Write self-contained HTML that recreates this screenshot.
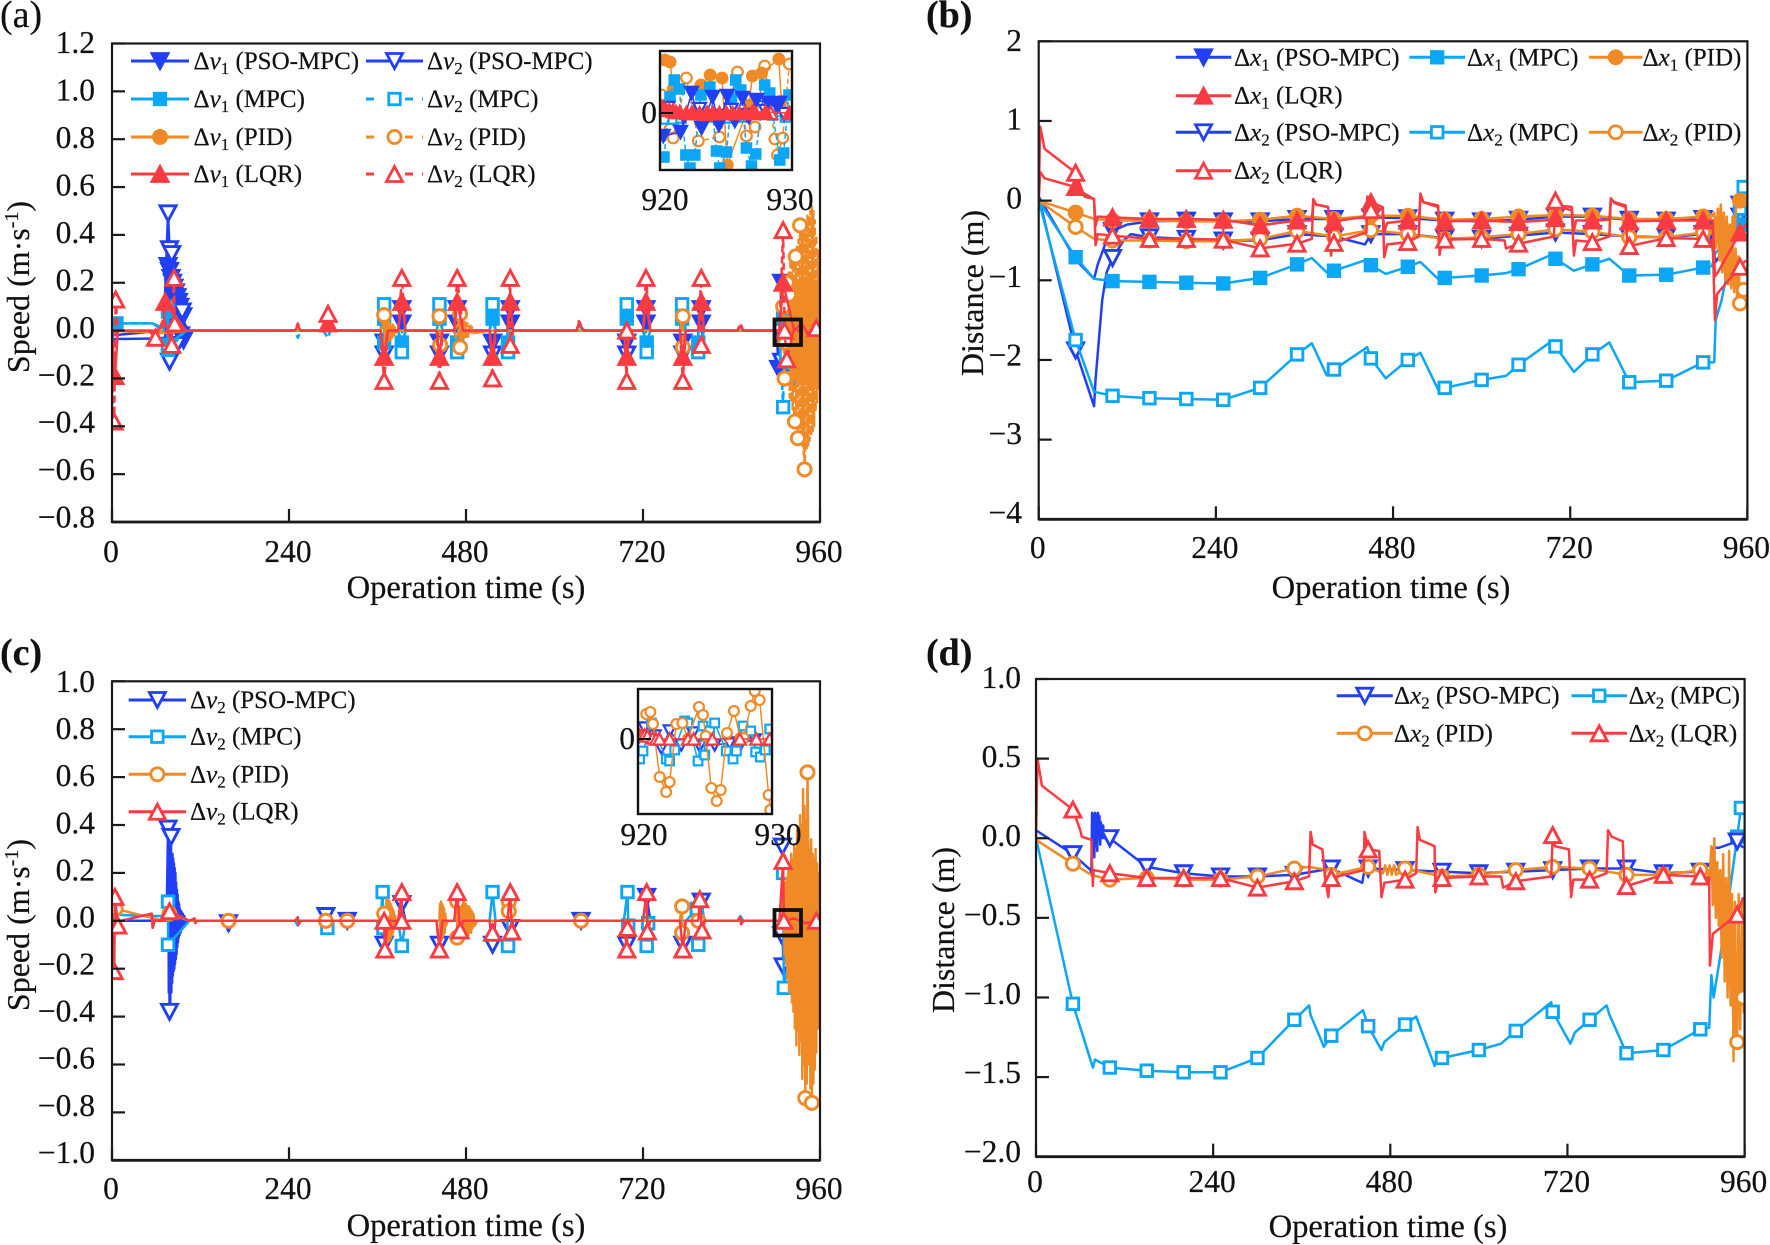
<!DOCTYPE html>
<html lang="en">
<head>
<meta charset="utf-8">
<title>Speed and distance deviation charts</title>
<style>
html,body{margin:0;padding:0;background:#fff;}
svg{display:block;font-family:"Liberation Serif","Times New Roman",serif;}
text{fill:#111;stroke:#111;stroke-width:0.2px;}
</style>
</head>
<body>
<svg id="figure" xmlns="http://www.w3.org/2000/svg" width="1770" height="1245" viewBox="0 0 1770 1245">
  <rect width="1770" height="1245" fill="#fff"/>
  <text x="0" y="27" font-size="38">(a)</text>
  <text x="926" y="27" font-size="38" font-weight="bold">(b)</text>
  <text x="0" y="665" font-size="38" font-weight="bold">(c)</text>
  <text x="926" y="665" font-size="38" font-weight="bold">(d)</text>
  <text x="466" y="598" font-size="32.6" text-anchor="middle">Operation time (s)</text>
  <text x="1391" y="598" font-size="32.6" text-anchor="middle">Operation time (s)</text>
  <text x="466" y="1236" font-size="32.6" text-anchor="middle">Operation time (s)</text>
  <text x="1388" y="1237" font-size="32.6" text-anchor="middle">Operation time (s)</text>
  <text transform="translate(29,287) rotate(-90)" font-size="32" text-anchor="middle">Speed (m·s<tspan font-size="20" dy="-11">-1</tspan><tspan dy="11">)</tspan></text>
  <text transform="translate(29,925) rotate(-90)" font-size="32" text-anchor="middle">Speed (m·s<tspan font-size="20" dy="-11">-1</tspan><tspan dy="11">)</tspan></text>
  <text transform="translate(983,293) rotate(-90)" font-size="32" text-anchor="middle">Distance (m)</text>
  <text transform="translate(954,930) rotate(-90)" font-size="32" text-anchor="middle">Distance (m)</text>
</svg>
<script>
/* ---------- shared axis values ---------- */
const xTickValues = [0, 240, 480, 720, 960];
const speedTicksA = [1.2, 1.0, 0.8, 0.6, 0.4, 0.2, 0.0, -0.2, -0.4, -0.6, -0.8];
const speedLabelsA = ['1.2', '1.0', '0.8', '0.6', '0.4', '0.2', '0.0', '−0.2', '−0.4', '−0.6', '−0.8'];
const distTicksB = [2, 1, 0, -1, -2, -3, -4];
const distLabelsB = ['2', '1', '0', '−1', '−2', '−3', '−4'];
const speedTicksC = [1.0, 0.8, 0.6, 0.4, 0.2, 0.0, -0.2, -0.4, -0.6, -0.8, -1.0];
const speedLabelsC = ['1.0', '0.8', '0.6', '0.4', '0.2', '0.0', '−0.2', '−0.4', '−0.6', '−0.8', '−1.0'];
const distTicksD = [1.0, 0.5, 0.0, -0.5, -1.0, -1.5, -2.0];
const distLabelsD = ['1.0', '0.5', '0.0', '−0.5', '−1.0', '−1.5', '−2.0'];
const insetTimeTicks = [920, 930];

/* times at which the speed deviations sit on zero between events */
const spikeBaseTimes = [105,115,154,162,248,256,286,296,315,323,364,374,388,398,440,448,464,476,512,520,536,544,630,640,694,702,720,730,770,778,795,803,848,856,901,905];

/* ---------- panel (a) values: [time, speed] ---------- */
const aV1PsoLine = [[0,-0.1],[3,-0.035],[60,-0.033],[72,-0.03],[74,0.05],[100,0.02]];
const aV1PsoMarks = [[76,0.27],[78,0.25],[80,0.22],[82,0.2],[84,0.18],[86,0.16],[88,0.14],[90,0.12],[92,0.1],[93,-0.02],[94,0.08],[96,0.06],[97,-0.04],[369,-0.05],[393,0.03],[444,-0.05],[468,0.03],[516,-0.05],[540,0.03],[698,-0.05],[724,0.03],[774,-0.05],[799,0.03],[904,-0.16],[908,0.2],[911,-0.15],[914,-0.17]];
const aV1PsoEnd = [[918,0.05],[930,-0.03],[945,0.02],[960,-0.02]];
const aV2PsoLine = [[0,-0.02],[70,0],[100,0.01],[920,0.02],[940,-0.02],[960,0]];
const aV2PsoMarks = [[76,0.49],[78,0.34],[78,-0.13],[81,0.32],[88,-0.06],[95,0.08],[369,-0.1],[393,0.09],[444,-0.1],[468,0.09],[516,-0.1],[540,0.09],[698,-0.1],[724,0.09],[774,-0.1],[799,0.09],[908,-0.13]];
const aV1MpcLine = [[0,-0.04],[3,0.03],[55,0.03],[70,0.01],[100,0],[920,-0.03],[940,0.03],[960,-0.02]];
const aV1MpcMarks = [[6,0.03],[76,0.08],[76,-0.06],[369,0.05],[369,-0.05],[393,-0.05],[444,0.05],[468,-0.05],[516,0.05],[537,-0.05],[698,0.05],[725,-0.05],[773,0.05],[795,-0.05],[910,0.05],[915,-0.12]];
const aV2MpcLine = [[0,-0.08],[2,0.03],[55,0.03],[70,0],[100,0],[252,-0.03],[293,-0.03],[633,0.02],[852,0.02],[925,-0.05],[935,0.05],[950,-0.04],[960,0.02]];
const aV2MpcMarks = [[76,0.1],[76,-0.08],[369,0.11],[393,-0.09],[444,0.11],[468,-0.09],[516,0.11],[537,-0.09],[698,0.11],[725,-0.09],[773,0.11],[795,-0.09],[910,-0.32],[912,0.09],[914,-0.1],[917,-0.2]];
const aV1PidLine = [[0,0],[70,-0.01],[105,0],[369,0.03],[372,-0.03],[375,0.03],[378,-0.02],[381,0.02],[384,-0.01],[470,0.03],[474,-0.03],[478,0.03],[482,-0.02],[486,0.02],[490,-0.01],[910,0.02],[914,-0.05],[917,0.06],[920,-0.08]];
const aV1PidMarks = [[922,0.1],[923,-0.11],[924,0.12],[925,-0.13],[926,0.13],[927,-0.14],[928,0.14],[929,-0.15],[930,0.15],[931,-0.16],[932,0.16],[933,-0.17],[934,0.17],[935,-0.17],[936,0.18],[937,-0.18],[938,0.18],[939,-0.18],[940,0.18],[941,-0.18],[942,0.18],[943,-0.18],[944,0.18],[945,-0.18],[946,0.18],[947,-0.18],[948,0.18],[949,-0.17],[950,0.18],[951,-0.16],[952,0.18],[953,-0.15],[954,0.17],[955,-0.14],[956,0.17],[957,-0.12],[958,0.17],[959,-0.1],[960,0.16]];
const aV2PidLine = [[0,0],[70,0],[105,0],[370,-0.06],[371,0.055],[372,-0.055],[373,0.05],[374,-0.05],[375,0.045],[376,-0.045],[377,0.04],[378,-0.035],[379,0.03],[380,-0.03],[381,0.025],[382,-0.02],[383,0.015],[384,-0.01],[469,-0.06],[470,0.06],[471,-0.055],[473,0.05],[474,-0.05],[476,0.045],[477,-0.04],[479,0.035],[480,-0.035],[482,0.03],[483,-0.03],[485,0.025],[486,-0.02],[488,0.015],[490,-0.01],[918,0.25],[919,-0.28],[920,0.3],[921,-0.3],[922,0.32],[923,-0.33],[924,0.33],[925,-0.36],[927,0.34],[928,-0.38],[929,0.36],[930,-0.42],[931,0.38],[932,-0.44],[933,0.42],[934,-0.46],[935,0.44],[936,-0.48],[937,0.44],[938,-0.52],[939,0.46],[940,-0.5],[941,0.46],[942,-0.5],[943,0.48],[944,-0.48],[945,0.48],[946,-0.46],[947,0.5],[948,-0.44],[949,0.52],[950,-0.42],[951,0.5],[952,-0.4],[953,0.46],[954,-0.34],[955,0.4],[956,-0.3],[957,0.34],[958,-0.24],[959,0.26],[960,-0.16]];
const aV2PidMarks = [[369,0.065],[444,0.06],[445,-0.06],[472,0.07],[472,-0.07],[774,0.06],[774,-0.07],[910,0.1],[912,-0.2],[913,-0.05],[915,0.2],[918,0.15],[926,-0.38],[927,0.31],[930,-0.45],[933,0.44],[939,-0.58]];
const aV1LqrLine = [[0,0],[1,-0.05],[8,0],[60,0],[70,0.02],[100,0],[252,0.02],[633,0.03],[852,0.02],[925,0],[935,0.03],[945,-0.02],[960,0]];
const aV1LqrMarks = [[4,-0.19],[72,0.12],[293,0.03],[369,-0.11],[393,0.12],[444,-0.11],[468,0.12],[516,-0.11],[540,0.12],[698,-0.11],[724,0.12],[774,-0.11],[799,0.12],[910,0.2]];
const aV2LqrLine = [[0,0],[1,-0.3],[8,0],[50,0],[70,0.05],[100,0],[252,0.03],[633,0.04],[852,0.03],[925,0.01],[940,-0.02],[960,0]];
const aV2LqrMarks = [[3,-0.38],[5,0.13],[59,-0.03],[81,-0.06],[84,0.22],[85,0.03],[293,0.07],[369,-0.21],[393,0.22],[444,-0.21],[468,0.22],[516,-0.2],[540,0.22],[540,-0.06],[698,-0.21],[698,0],[724,0.22],[774,-0.21],[799,0.22],[799,-0.06],[910,0.42],[912,0],[915,-0.12],[955,0.01]];

/* inset (a): [time, speed] */
const insetAPid1 = [[920.38,0.053],[920.76,0.051],[921,0.024],[923.1,0.028],[923.8,0.038],[924.7,0.035],[925.1,-0.052],[926.75,0.008],[927,0.037],[927.7,0.04],[929,0.054],[929.2,0.012]];
const insetAPid2 = [[920.13,0.018],[920.76,-0.016],[921,-0.025],[922,0.035],[922.9,-0.028],[924.5,-0.024],[925.87,0.041],[926.55,-0.023],[927.2,-0.014],[927.93,0.047],[928.7,-0.026],[928.9,-0.042],[929.3,-0.025],[929.8,0.049]];
const insetAMpc1 = [[920.3,-0.044],[920.76,0.016],[921.08,0.033],[921.46,0.024],[921.96,-0.042],[922.27,-0.055],[922.64,-0.042],[923.1,0.018],[923.78,0.026],[924.28,-0.038],[924.53,-0.055],[925.04,-0.039],[925.42,0.015],[925.74,0.033],[926.12,0.023],[926.55,-0.035],[926.93,-0.053],[927.25,-0.041],[927.93,0.028],[928.31,0.02],[929.07,-0.047],[929.37,-0.04],[929.77,0.018]];
const insetAMpc2 = [[920.4,-0.006],[921,-0.006],[921.6,-0.005],[923.1,-0.005],[924,-0.004],[925.2,-0.005],[926.4,-0.004],[928.5,-0.002],[929.5,-0.004]];
const insetAPso1 = [[920.25,-0.023],[921.56,-0.019],[922.39,0.02],[923.15,-0.015],[923.98,0.016],[924.46,-0.012],[925.09,0.017],[925.67,-0.008],[926.25,0.015],[926.75,-0.004],[927.3,0.013],[928.19,0.01],[928.82,0.008],[929.07,0.01]];
const insetAPso2 = [[920.6,0.005],[921.8,-0.004],[923,0.004],[924.2,-0.003],[925.4,0.003],[926.6,-0.002],[928,0.002],[929.4,-0.001]];
const insetALqr1 = [[920.1,0.006],[920.4,0.004],[920.7,0.003],[921,0.002],[921.5,0.001],[922,0],[922.5,0],[923,0],[923.5,-0.001],[924,0],[924.5,0],[925,0],[925.5,0],[926,0],[926.5,0],[927,0.001],[928,0.001],[929.8,0]];
const insetALqr2 = [[920.2,0.004],[921.2,0.001],[922.4,0],[923.6,0],[925,0],[927.2,0],[928.4,0]];

/* ---------- panel (c) values: [time, speed] ---------- */
const cPsoLine = [[0,0],[60,0],[74,0],[76.5,0.3],[77,-0.3],[77.5,0.36],[78.5,0.34],[79,-0.34],[79.5,0.3],[80.5,-0.3],[81,0.28],[81.5,-0.26],[82,0.28],[82.5,-0.23],[83,0.26],[83.5,-0.21],[84,0.24],[84.5,-0.2],[85,0.22],[85.5,-0.18],[86,0.2],[86.5,-0.16],[87,0.16],[87.5,-0.14],[88,0.13],[88.5,-0.11],[89,0.11],[89.5,-0.09],[90,0.08],[90.5,-0.07],[91,0.07],[91.5,-0.06],[92,0.05],[93,-0.05],[94,0.04],[95,-0.03],[96,0.03],[97,-0.02],[98,0.02],[100,-0.01],[925,0.03],[945,-0.03],[960,0]];
const cPsoMarks = [[76,0.385],[78,-0.38],[80,0.35],[158,-0.01],[290,0.02],[319,0],[369,-0.1],[393,0.07],[444,-0.1],[516,-0.1],[540,-0.03],[636,0],[698,-0.1],[725,0.1],[774,-0.1],[799,0.08],[908,-0.06],[909,0.31],[910,-0.19]];
const cMpcLine = [[0,0.03],[5,0.025],[55,0.02],[68,0.02],[74,0],[252,-0.02],[852,0.02],[925,-0.04],[945,0.03],[960,0]];
const cMpcMarks = [[76,0.08],[76,-0.1],[292,-0.03],[367,0.12],[368,-0.03],[393,-0.105],[516,0.12],[537,-0.105],[699,0.12],[700,-0.02],[725,-0.105],[727,-0.01],[793,0.05],[795,-0.1],[910,0.2],[911,-0.28]];
const cPidLine = [[0,0],[70,0],[105,0],[370,-0.05],[370.7,0.05],[371.4,-0.08],[372.1,0.09],[372.8,-0.09],[373.5,0.09],[374.2,-0.09],[374.9,0.085],[375.6,-0.085],[376.3,0.08],[377,-0.08],[377.7,0.07],[378.4,-0.07],[379.1,0.06],[379.8,-0.06],[380.5,0.05],[381.2,-0.05],[382,0.04],[383,-0.03],[384,0.02],[385,-0.01],[444,0],[444.7,0.07],[445.4,-0.07],[446.1,0.08],[446.8,-0.08],[447.5,0.07],[448.2,-0.07],[448.9,0.06],[449.6,-0.06],[450.3,0.05],[451,-0.05],[452,0.03],[453,-0.02],[455,0],[470,-0.06],[470.7,0.06],[471.4,-0.05],[472.1,0.06],[473,-0.06],[474,0.06],[475,-0.07],[476,0.07],[477,-0.07],[478,0.07],[479,-0.07],[480,0.07],[481,-0.07],[482,0.06],[483,-0.06],[484,0.06],[485,-0.05],[486,0.05],[487,-0.05],[488,0.04],[489,-0.03],[490,0.03],[492,-0.02],[495,0],[911,0.1],[912,-0.14],[913,0.16],[914,-0.18],[915,0.18],[916,-0.24],[917,0.2],[918,-0.3],[919,0.24],[920,-0.28],[921,0.28],[922,-0.34],[923,0.26],[924,-0.38],[925,0.32],[926,-0.45],[927,0.3],[928,-0.52],[929,0.38],[930,-0.46],[931,0.36],[932,-0.56],[933,0.44],[934,-0.5],[935,0.4],[936,-0.66],[937,0.55],[938,-0.6],[939,0.48],[941,0.42],[942,-0.68],[944,0.36],[945,-0.6],[946,0.3],[947,-0.7],[948,0.34],[950,0.28],[951,-0.68],[952,0.26],[953,-0.62],[954,0.3],[955,-0.55],[956,0.24],[957,-0.45],[958,0.2],[959,-0.3],[960,0.14]];
const cPidMarks = [[5,0.05],[78,0.03],[158,0],[290,0],[319,0],[369,0.03],[468,0.08],[468,-0.07],[538,0.08],[538,0.04],[636,0],[773,0.06],[773,-0.05],[795,0],[940,-0.74],[943,0.62],[949,-0.76]];
const cLqrLine = [[0,0],[1,-0.15],[12,0],[54,0.03],[55,-0.03],[58,0],[70,0],[112,0.01],[113,-0.01],[252,0.015],[253,-0.015],[852,0.015],[853,-0.015],[905,0],[925,0.01],[940,-0.01],[960,0]];
const cLqrMarks = [[3,-0.21],[4,0.1],[8,-0.02],[78,0.04],[369,0],[370,-0.12],[393,0.12],[393,0],[444,-0.12],[468,0.12],[472,-0.04],[516,-0.05],[540,0.12],[542,-0.045],[698,-0.12],[699,-0.03],[725,0.12],[726,-0.045],[774,-0.12],[797,0.09],[800,-0.04],[910,0.25],[911,0],[955,0]];

/* inset (c): [time, speed] */
const insetCPso = [[920.12,0.003],[920.5,0.011],[921.24,0.003],[921.74,-0.009],[922.36,0.008],[923.23,-0.006],[924.1,0.006],[924.6,-0.007],[925.72,-0.006],[926.84,-0.004],[927.71,-0.004],[928.71,-0.001]];
const insetCMpc = [[920.12,-0.02],[920.37,-0.012],[921,0.016],[922.11,-0.02],[922.36,-0.022],[922.74,-0.011],[923.48,0.018],[923.73,0.016],[924.48,-0.022],[924.85,0.013],[924.98,-0.016],[925.35,0.008],[925.72,0.016],[926.59,-0.012],[927.09,-0.02],[927.34,-0.012],[927.84,0.013],[928.41,0.008],[928.78,-0.013],[929.13,-0.018],[929.5,-0.011],[929.83,0.01]];
const insetCPid = [[920.62,0.025],[920.92,0.027],[921.12,0.015],[921.62,-0.038],[922.1,-0.053],[922.36,-0.043],[922.86,0.015],[923.31,0.016],[923.73,0],[924.55,0.032],[924.85,0.024],[925.05,0.003],[925.47,-0.049],[925.87,-0.062],[926.17,-0.051],[926.64,0.006],[927.16,0.028],[927.64,0.001],[927.89,0.001],[928.41,0.033],[928.71,0.048],[929.08,0.039],[929.75,-0.056],[929.87,-0.071]];
const insetCLqr = [[920.1,0.004],[920.3,0.004],[920.5,0.004],[920.7,0.003],[921.1,0.001],[921.35,0],[921.6,0],[922.36,0],[923.73,0],[924.15,0],[925.55,0],[927.6,0],[928.83,0],[929.83,0]];

/* ---------- panels (b) and (d): values at shared marker times ---------- */
const trackMarkTimes = [50,100,150,200,250,300,350,400,450,500,550,600,650,700,750,800,850,900,950];
const trackMarkTimesFrom100 = [100,150,200,250,300,350,400,450,500,550,600,650,700,750,800,850,900,950];

const bX1Pso = [-0.38,-0.26,-0.25,-0.26,-0.26,-0.23,-0.23,-0.21,-0.22,-0.25,-0.26,-0.24,-0.2,-0.2,-0.24,-0.25,-0.23,-0.05];
const bX1PsoLine = [[0,0.05],[50,-0.74],[75,-0.98],[80,-0.8],[90,-0.55],[120,-0.3],[910,-0.25],[916,-0.75],[925,-0.7],[935,-0.4],[958,-0.3]];
const bX2Pso = [-1.88,-0.72,-0.46,-0.48,-0.5,-0.5,-0.42,-0.45,-0.42,-0.42,-0.47,-0.48,-0.44,-0.4,-0.42,-0.45,-0.46,-0.42,-0.2];
const bX2PsoLine = [[0,0.05],[75,-2.58],[77,-2.25],[86,-1.25],[92,-0.9],[115,-0.5],[125,-0.42],[442,-0.55],[910,-0.45],[916,-0.78],[930,-0.6],[958,-0.1]];
const bX1Mpc = [-0.71,-1.01,-1.02,-1.03,-1.04,-0.97,-0.8,-0.88,-0.81,-0.83,-0.97,-0.94,-0.86,-0.73,-0.8,-0.94,-0.93,-0.84,-0.3];
const bX1MpcLine = [[0,0],[75,-0.98],[370,-0.72],[390,-0.9],[445,-0.74],[470,-0.92],[517,-0.77],[543,-1.0],[633,-0.91],[697,-0.67],[725,-0.88],[773,-0.73],[912,-0.82],[917,-0.65],[935,-0.5],[958,0]];
const bX2Mpc = [-1.75,-2.45,-2.48,-2.49,-2.5,-2.35,-1.93,-2.12,-1.98,-2,-2.35,-2.25,-2.06,-1.83,-1.93,-2.28,-2.26,-2.03,-0.1];
const bX2MpcLine = [[0,0],[75,-2.4],[370,-1.79],[390,-2.19],[445,-1.84],[470,-2.23],[517,-1.91],[543,-2.41],[633,-2.2],[697,-1.75],[725,-2.15],[773,-1.78],[915,-2.03],[917,-1.5],[925,-1.25]];
const bX2MpcExtra = [[955,0.17]];
const bX1Pid = [-0.15,-0.25,-0.25,-0.26,-0.26,-0.24,-0.19,-0.23,-0.19,-0.19,-0.24,-0.23,-0.2,-0.18,-0.19,-0.23,-0.23,-0.2,0];
const bX1PidLine = [[0,0],[75,-0.23],[910,-0.22],[915,-0.15],[918,-0.4],[920,-0.1],[922,-0.5],[924,-0.05],[926,-0.6],[928,-0.15],[930,-0.7],[932,-0.2],[934,-0.75],[936,-0.3],[938,-0.6],[940,-0.2],[942,-0.5],[945,-0.05]];
const bX2Pid = [-0.33,-0.5,-0.5,-0.51,-0.51,-0.48,-0.38,-0.45,-0.37,-0.42,-0.48,-0.46,-0.42,-0.36,-0.39,-0.46,-0.46,-0.4,-1.29];
const bX2PidLine = [[0,0],[75,-0.48],[910,-0.42],[914,-0.25],[917,-0.6],[920,-0.3],[922,-0.75],[924,-0.35],[926,-0.9],[928,-0.4],[930,-1.0],[932,-0.45],[934,-1.05],[936,-0.5],[938,-1.1],[940,-0.55],[942,-1.15],[944,-0.6],[946,-1.2],[948,-0.7]];
const bX2PidExtra = [[955,-1.12]];
const bX1Lqr = [0.17,-0.21,-0.23,-0.23,-0.24,-0.31,-0.25,-0.26,-0.02,-0.25,-0.26,-0.25,-0.27,-0.22,-0.25,-0.26,-0.25,-0.25,-0.4];
const bX1LqrLine = [[0,0],[2,0.36],[8,0.28],[60,0.1],[75,0.02],[77,-0.32],[80,-0.2],[370,-0.25],[372,0],[376,-0.05],[392,-0.08],[394,-0.25],[396,-0.4],[398,-0.25],[444,-0.2],[445,0.02],[449,-0.05],[466,-0.08],[468,-0.4],[472,-0.28],[515,-0.24],[517,0.05],[521,-0.02],[541,-0.06],[543,-0.38],[546,-0.26],[698,-0.24],[703,-0.06],[722,-0.08],[725,-0.38],[728,-0.25],[773,-0.24],[775,0.01],[780,-0.02],[795,-0.06],[797,-0.25],[913,-0.25],[916,-0.95],[920,-0.9],[958,-0.3]];
const bX2Lqr = [0.35,-0.44,-0.48,-0.48,-0.49,-0.6,-0.54,-0.53,-0.12,-0.52,-0.49,-0.48,-0.54,0,-0.52,-0.57,-0.47,-0.48,-0.83];
const bX2LqrLine = [[0,0],[2,0.93],[8,0.65],[60,0.1],[62,0.05],[75,0.02],[77,-0.56],[80,-0.42],[370,-0.48],[372,0.02],[376,-0.05],[392,-0.08],[394,-0.5],[396,-0.69],[398,-0.5],[444,-0.4],[445,0.05],[449,-0.08],[466,-0.1],[468,-0.71],[472,-0.55],[515,-0.45],[517,0.09],[521,-0.02],[541,-0.08],[543,-0.68],[546,-0.5],[631,-0.5],[633,-0.6],[698,-0.45],[703,-0.08],[722,-0.12],[725,-0.69],[728,-0.5],[773,-0.45],[775,0.03],[780,-0.03],[795,-0.08],[797,-0.5],[913,-0.5],[916,-1.5],[919,-1.17],[958,-0.75]];

const dPso = [-0.1,0,-0.18,-0.22,-0.24,-0.24,-0.23,-0.19,-0.19,-0.2,-0.21,-0.22,-0.21,-0.2,-0.19,-0.19,-0.22,-0.21,-0.02];
const dPsoLine = [[0,0.05],[74,-0.2],[75,-0.22],[76,0.16],[77,-0.1],[78,0.15],[79,-0.12],[80,0.16],[81,-0.05],[82,0.15],[83,-0.08],[84,0.16],[85,0],[86,0.14],[87,-0.04],[88,0.1],[89,0],[91,0.08],[92,0],[442,-0.28],[445,-0.2],[915,-0.2],[918,-0.06],[925,-0.06],[958,-0.06]];
const dMpc = [-1.04,-1.44,-1.46,-1.47,-1.47,-1.38,-1.14,-1.24,-1.18,-1.17,-1.38,-1.33,-1.21,-1.09,-1.14,-1.35,-1.33,-1.2,0.01];
const dMpcLine = [[0,0],[75,-1.41],[77,-1.44],[80,-1.39],[370,-1.05],[372,-1.11],[390,-1.31],[443,-1.08],[468,-1.33],[472,-1.28],[515,-1.12],[540,-1.43],[543,-1.38],[630,-1.29],[698,-1.03],[724,-1.29],[730,-1.22],[773,-1.05],[777,-1.11],[912,-1.19],[915,-0.86],[918,-1.0],[925,-0.8],[935,-0.5]];
const dMpcExtra = [[955,0.19]];
const dPid = [-0.16,-0.26,-0.25,-0.26,-0.26,-0.24,-0.19,-0.23,-0.18,-0.19,-0.24,-0.23,-0.2,-0.18,-0.19,-0.23,-0.23,-0.2,-1.28];
const dPidLine = [[0,-0.01],[75,-0.23],[370,-0.18],[395,-0.2],[470,-0.22],[473,-0.17],[476,-0.23],[479,-0.17],[482,-0.23],[485,-0.17],[488,-0.23],[910,-0.2],[912,-0.3],[915,-0.05],[917,-0.42],[919,0],[921,-0.5],[923,-0.15],[925,-0.55],[927,-0.2],[929,-0.75],[931,-0.1],[933,-0.9],[935,-0.25],[937,-1.0],[939,-0.08],[941,-1.05],[943,-0.35],[945,-1.4],[947,-0.4],[949,-1.3],[952,-0.35],[954,-1.2],[957,-0.4],[959,-1.1]];
const dPidExtra = [[958,-1]];
const dLqr = [0.18,-0.22,-0.25,-0.25,-0.25,-0.31,-0.27,-0.25,-0.07,-0.26,-0.25,-0.24,-0.27,0.02,-0.26,-0.3,-0.23,-0.24,-0.48];
const dLqrLine = [[0,0],[2,0.5],[8,0.33],[60,0.05],[62,0.01],[75,-0.01],[77,-0.3],[78,-0.2],[370,-0.24],[372,0.04],[375,-0.04],[388,-0.07],[392,-0.26],[396,-0.37],[398,-0.25],[444,-0.2],[445,0.04],[465,-0.08],[468,-0.37],[472,-0.28],[515,-0.22],[517,0.07],[520,-0.01],[540,-0.05],[541,-0.34],[545,-0.26],[630,-0.24],[633,-0.31],[698,-0.24],[703,-0.05],[722,-0.07],[725,-0.37],[728,-0.26],[773,-0.22],[775,0.05],[780,0.01],[795,-0.02],[797,-0.27],[912,-0.25],[913,-0.8],[917,-0.6],[958,-0.37]];

/* ---------- helpers ---------- */
const SVG_NS = 'http://www.w3.org/2000/svg';
const figure = document.getElementById('figure');
const BLUE = '#2140f5', CYAN = '#0ca6f7', ORANGE = '#f08a26', RED = '#fb3b42', INK = '#1a1a1a';

function create(parent, tag, attrs) {
  const el = document.createElementNS(SVG_NS, tag);
  for (const k in attrs) el.setAttribute(k, attrs[k]);
  parent.appendChild(el);
  return el;
}
function scale(d0, d1, r0, r1) {
  return v => r0 + (v - d0) * (r1 - r0) / (d1 - d0);
}
function zip(times, values) {
  return times.map((t, i) => [t, values[i]]);
}
function mergeByTime() {
  const all = [];
  for (const list of arguments) for (const p of list) all.push(p);
  return all.map((p, i) => [p, i]).sort((a, b) => a[0][0] - b[0][0] || a[1] - b[1]).map(e => e[0]);
}
function baseline(times) {
  return times.map(t => [t, 0]);
}

function drawMarker(parent, shape, x, y, size, color, filled, sw, label) {
  const attrs = {fill: filled ? color : '#fff', stroke: color, 'stroke-width': sw, 'stroke-linejoin': 'miter'};
  let el;
  if (shape === 'down' || shape === 'up') {
    const w = size / 2, h = size * 0.47, s = shape === 'up' ? 1 : -1;
    attrs.points = (x - w) + ',' + (y + s * h) + ' ' + (x + w) + ',' + (y + s * h) + ' ' + x + ',' + (y - s * h);
    el = create(parent, 'polygon', attrs);
  } else if (shape === 'square') {
    const a = size * 0.72;
    attrs.x = x - a / 2; attrs.y = y - a / 2; attrs.width = a; attrs.height = a;
    el = create(parent, 'rect', attrs);
  } else {
    attrs.cx = x; attrs.cy = y; attrs.r = size * 0.41;
    el = create(parent, 'circle', attrs);
  }
  
  
  return el;
}

function drawSeries(parent, s, xf, yf, opts) {
  const g = create(parent, 'g', {});
  
  
  const pts = s.line.map(p => xf(p[0]).toFixed(2) + ',' + yf(p[1]).toFixed(2)).join(' ');
  const lineAttrs = {points: pts, fill: 'none', stroke: s.color, 'stroke-width': opts.lineWidth, 'stroke-linejoin': 'round'};
  if (s.dash) lineAttrs['stroke-dasharray'] = s.dash;
  const line = create(g, 'polyline', lineAttrs);
  
  
  for (const m of s.marks) {
    drawMarker(g, s.shape, xf(m[0]), yf(m[1]), opts.size, s.color, s.filled, opts.markerStroke, s.name + '-marker');
  }
}

function drawAxes(parent, p, xf, yf) {
  const frame = create(parent, 'rect', {x: p.left, y: p.top, width: p.right - p.left, height: p.bottom - p.top, fill: 'none', stroke: INK, 'stroke-width': 2.2});
  
  
  const baseAxis = create(parent, 'line', {x1: p.left, x2: p.right, y1: p.bottom, y2: p.bottom, stroke: INK, 'stroke-width': 2.8});
  
  
  xTickValues.forEach(v => {
    const x = xf(v);
    const tick = create(parent, 'line', {x1: x, x2: x, y1: p.bottom, y2: p.bottom - 13, stroke: INK, 'stroke-width': 2.2});
    
    
    const label = create(parent, 'text', {x: x - 1, y: p.xLabelY, 'font-size': 31.5, 'text-anchor': 'middle'});
    
    
    label.textContent = v;
  });
  p.yTicks.forEach((v, i) => {
    const y = yf(v);
    const tick = create(parent, 'line', {x1: p.left, x2: p.left + 13, y1: y, y2: y, stroke: INK, 'stroke-width': 2.2});
    
    
    const cy = p.labelTop + (y - p.top) * p.labelSqueeze;
    const label = create(parent, 'text', {x: p.yLabelRight, y: cy + 10, 'font-size': 31.5, 'text-anchor': 'end'});
    
    
    label.textContent = p.yLabels[i];
  });
}

function legendEntry(parent, x0, x1, tx, y, s, letter, sub, method) {
  const g = create(parent, 'g', {});
  
  
  const attrs = {x1: x0, x2: x1, y1: y, y2: y, stroke: s.color, 'stroke-width': 3};
  if (s.legendDash) attrs['stroke-dasharray'] = s.legendDash;
  const l = create(g, 'line', attrs);
  
  
  drawMarker(g, s.shape, (x0 + x1) / 2, y, 16, s.color, s.filled, 2.8, 'legend-marker');
  const t = create(g, 'text', {x: tx, y: y + 8, 'font-size': 25});
  
  
  const a = create(t, 'tspan', {}); a.textContent = 'Δ';
  const b = create(t, 'tspan', {'font-style': 'italic'}); b.textContent = letter;
  const c = create(t, 'tspan', {dy: 5, 'font-size': 17}); c.textContent = sub;
  const d = create(t, 'tspan', {dy: -5}); d.textContent = ' ' + method;
}

function panel(cfg) {
  const g = create(figure, 'g', {});
  
  
  const clipId = cfg.name + '-clip';
  const defs = create(g, 'defs', {});
  const clip = create(defs, 'clipPath', {id: clipId});
  create(clip, 'rect', {x: cfg.left, y: cfg.top, width: cfg.right - cfg.left, height: cfg.bottom - cfg.top});
  const xf = scale(0, 960, cfg.left, cfg.right);
  const yf = scale(cfg.yMax, cfg.yMin, cfg.top, cfg.bottom);
  const plot = create(g, 'g', {'clip-path': 'url(#' + clipId + ')'});
  
  
  cfg.series.forEach(s => drawSeries(plot, s, xf, yf, {size: cfg.markerSize, lineWidth: 2.5, markerStroke: 2.9}));
  drawAxes(g, cfg, xf, yf);
  return g;
}

function inset(parent, cfg) {
  const g = create(parent, 'g', {});
  
  
  const bg = create(g, 'rect', {x: cfg.left, y: cfg.top, width: cfg.right - cfg.left, height: cfg.bottom - cfg.top, fill: '#fff'});
  
  
  const defs = create(g, 'defs', {});
  const clip = create(defs, 'clipPath', {id: cfg.id});
  create(clip, 'rect', {x: cfg.left, y: cfg.top, width: cfg.right - cfg.left, height: cfg.bottom - cfg.top});
  const xf = scale(insetTimeTicks[0], insetTimeTicks[1], cfg.left, cfg.right);
  const yf = scale(0, -0.001, cfg.zeroY, cfg.zeroY + 1);
  const plot = create(g, 'g', {'clip-path': 'url(#' + cfg.id + ')'});
  
  
  cfg.series.forEach(s => {
    const sInset = {name: s.name, color: s.color, shape: s.shape, filled: s.filled, dash: s.dash, line: s.marks, marks: s.marks};
    drawSeries(plot, sInset, xf, yf, {size: cfg.size, lineWidth: 1.5, markerStroke: 2.2});
  });
  const frame = create(g, 'rect', {x: cfg.left, y: cfg.top, width: cfg.right - cfg.left, height: cfg.bottom - cfg.top, fill: 'none', stroke: '#111', 'stroke-width': 2.4});
  
  
  const tick = create(g, 'line', {x1: cfg.left, x2: cfg.left + 13, y1: cfg.zeroY, y2: cfg.zeroY, stroke: '#111', 'stroke-width': 2});
  
  
  const zero = create(g, 'text', {x: cfg.left - 3, y: cfg.zeroY + 10, 'font-size': 31.5, 'text-anchor': 'end'});
  
  
  zero.textContent = '0';
  insetTimeTicks.forEach((v, i) => {
    const lab = create(g, 'text', {x: cfg.labelX[i], y: cfg.labelY, 'font-size': 31.5, 'text-anchor': 'middle'});
    
    
    lab.textContent = v;
  });
}

function zoomBox(parent, x, y) {
  const r = create(parent, 'rect', {x: x, y: y, width: 26.5, height: 25.5, fill: 'none', stroke: '#111', 'stroke-width': 3.8});
  
  
}

const DASH = '7 4';

/* ---------- panel (a) ---------- */
const aBase = baseline(spikeBaseTimes);
const aSeries = [
  {name:'v1-pso-mpc', color:BLUE, shape:'down', filled:true, line:mergeByTime(aBase,aV1PsoLine,aV1PsoMarks,aV1PsoEnd), marks:aV1PsoMarks},
  {name:'v2-pso-mpc', color:BLUE, shape:'down', filled:false, line:mergeByTime(aBase,aV2PsoLine,aV2PsoMarks), marks:aV2PsoMarks},
  {name:'v1-mpc', color:CYAN, shape:'square', filled:true, line:mergeByTime(aBase,aV1MpcLine,aV1MpcMarks), marks:aV1MpcMarks},
  {name:'v2-mpc', color:CYAN, shape:'square', filled:false, dash:DASH, line:mergeByTime(aBase,aV2MpcLine,aV2MpcMarks), marks:aV2MpcMarks},
  {name:'v1-pid', color:ORANGE, shape:'circle', filled:true, line:mergeByTime(aBase,aV1PidLine,aV1PidMarks), marks:aV1PidMarks},
  {name:'v2-pid', color:ORANGE, shape:'circle', filled:false, dash:DASH, line:mergeByTime(aBase,aV2PidLine,aV2PidMarks), marks:aV2PidMarks},
  {name:'v1-lqr', color:RED, shape:'up', filled:true, line:mergeByTime(aBase,aV1LqrLine,aV1LqrMarks), marks:aV1LqrMarks},
  {name:'v2-lqr', color:RED, shape:'up', filled:false, dash:DASH, line:mergeByTime(aBase,aV2LqrLine,aV2LqrMarks), marks:aV2LqrMarks}
];
const panelA = panel({name:'panel-a', left:112, right:820, top:43.5, bottom:522, yMax:1.2, yMin:-0.8, yTicks:speedTicksA, yLabels:speedLabelsA, xLabelY:562, yLabelRight:95, labelTop:43, labelSqueeze:0.992, markerSize:16, series:aSeries});
zoomBox(panelA, 774.5, 319.5);
[[61,0],[99,2],[137,4],[174,6]].forEach((row, i) => {
  const methods = ['(PSO-MPC)', '(MPC)', '(PID)', '(LQR)'];
  const v1 = aSeries[row[1]], v2 = aSeries[row[1] + 1];
  legendEntry(panelA, 131, 189, 193.5, row[0], {color:v1.color, shape:v1.shape, filled:true}, 'v', '1', methods[i]);
  legendEntry(panelA, 366, 423, 427, row[0], {color:v2.color, shape:v2.shape, filled:false, legendDash: i === 0 ? null : '8 9 0 22 8 9'}, 'v', '2', methods[i]);
});
inset(panelA, {id:'inset-a-clip', left:660, right:792, top:51, bottom:170, zeroY:113, size:13, labelX:[665,790], labelY:210, series:[
  {name:'inset-v2-pid', color:ORANGE, shape:'circle', filled:false, dash:'5 3', marks:insetAPid2},
  {name:'inset-v1-pid', color:ORANGE, shape:'circle', filled:true, marks:insetAPid1},
  {name:'inset-v2-mpc', color:CYAN, shape:'square', filled:false, dash:'5 3', marks:insetAMpc2},
  {name:'inset-v1-mpc', color:CYAN, shape:'square', filled:true, dash:'5 3', marks:insetAMpc1},
  {name:'inset-v2-pso-mpc', color:BLUE, shape:'down', filled:false, marks:insetAPso2},
  {name:'inset-v1-pso-mpc', color:BLUE, shape:'down', filled:true, marks:insetAPso1},
  {name:'inset-v2-lqr', color:RED, shape:'up', filled:false, marks:insetALqr2},
  {name:'inset-v1-lqr', color:RED, shape:'up', filled:true, marks:insetALqr1}
]});

/* ---------- panel (b) ---------- */
const bSeries = [
  {name:'x1-pso-mpc', color:BLUE, shape:'down', filled:true, marks:zip(trackMarkTimesFrom100,bX1Pso), extra:bX1PsoLine},
  {name:'x2-pso-mpc', color:BLUE, shape:'down', filled:false, marks:zip(trackMarkTimes,bX2Pso), extra:bX2PsoLine},
  {name:'x1-mpc', color:CYAN, shape:'square', filled:true, marks:zip(trackMarkTimes,bX1Mpc), extra:bX1MpcLine},
  {name:'x2-mpc', color:CYAN, shape:'square', filled:false, marks:zip(trackMarkTimes,bX2Mpc).concat(bX2MpcExtra), extra:bX2MpcLine},
  {name:'x1-pid', color:ORANGE, shape:'circle', filled:true, marks:zip(trackMarkTimes,bX1Pid), extra:bX1PidLine},
  {name:'x2-pid', color:ORANGE, shape:'circle', filled:false, marks:zip(trackMarkTimes,bX2Pid).concat(bX2PidExtra), extra:bX2PidLine},
  {name:'x1-lqr', color:RED, shape:'up', filled:true, marks:zip(trackMarkTimes,bX1Lqr), extra:bX1LqrLine},
  {name:'x2-lqr', color:RED, shape:'up', filled:false, marks:zip(trackMarkTimes,bX2Lqr), extra:bX2LqrLine}
];
bSeries.forEach(s => { s.line = mergeByTime(s.extra, s.marks); });
const panelB = panel({name:'panel-b', left:1038.7, right:1747.4, top:41.3, bottom:519.3, yMax:2, yMin:-4, yTicks:distTicksB, yLabels:distLabelsB, xLabelY:558, yLabelRight:1022, labelTop:41, labelSqueeze:0.987, markerSize:16, series:bSeries});
const bCol1 = [1175.8, 1231.3, 1234], bCol2 = [1409.4, 1465, 1467], bCol3 = [1589, 1642.5, 1642.5];
legendEntry(panelB, bCol1[0], bCol1[1], bCol1[2], 57.3, bSeries[0], 'x', '1', '(PSO-MPC)');
legendEntry(panelB, bCol2[0], bCol2[1], bCol2[2], 57.3, bSeries[2], 'x', '1', '(MPC)');
legendEntry(panelB, bCol3[0], bCol3[1], bCol3[2], 57.3, bSeries[4], 'x', '1', '(PID)');
legendEntry(panelB, bCol1[0], bCol1[1], bCol1[2], 95.7, bSeries[6], 'x', '1', '(LQR)');
legendEntry(panelB, bCol1[0], bCol1[1], bCol1[2], 132.3, bSeries[1], 'x', '2', '(PSO-MPC)');
legendEntry(panelB, bCol2[0], bCol2[1], bCol2[2], 132.3, bSeries[3], 'x', '2', '(MPC)');
legendEntry(panelB, bCol3[0], bCol3[1], bCol3[2], 132.3, bSeries[5], 'x', '2', '(PID)');
legendEntry(panelB, bCol1[0], bCol1[1], bCol1[2], 170.7, bSeries[7], 'x', '2', '(LQR)');

/* ---------- panel (c) ---------- */
const cBase = baseline(spikeBaseTimes);
const cSeries = [
  {name:'v2-pso-mpc', color:BLUE, shape:'down', filled:false, line:mergeByTime(cBase,cPsoLine,cPsoMarks), marks:cPsoMarks},
  {name:'v2-mpc', color:CYAN, shape:'square', filled:false, line:mergeByTime(cBase,cMpcLine,cMpcMarks), marks:cMpcMarks},
  {name:'v2-pid', color:ORANGE, shape:'circle', filled:false, line:mergeByTime(cBase,cPidLine,cPidMarks), marks:cPidMarks},
  {name:'v2-lqr', color:RED, shape:'up', filled:false, line:mergeByTime(cBase,cLqrLine,cLqrMarks), marks:cLqrMarks}
];
const panelC = panel({name:'panel-c', left:112, right:820, top:681.3, bottom:1160.3, yMax:1, yMin:-1, yTicks:speedTicksC, yLabels:speedLabelsC, xLabelY:1199, yLabelRight:95, labelTop:682, labelSqueeze:0.983, markerSize:16, series:cSeries});
zoomBox(panelC, 774.5, 910);
[700, 736.7, 774.3, 811.7].forEach((y, i) => {
  const methods = ['(PSO-MPC)', '(MPC)', '(PID)', '(LQR)'];
  legendEntry(panelC, 128.7, 186, 190, y, cSeries[i], 'v', '2', methods[i]);
});
inset(panelC, {id:'inset-c-clip', left:638, right:772, top:689, bottom:814, zeroY:739, size:12, labelX:[644,778], labelY:845, series:[
  {name:'inset-v2-pso-mpc', color:BLUE, shape:'down', filled:false, marks:insetCPso},
  {name:'inset-v2-mpc', color:CYAN, shape:'square', filled:false, marks:insetCMpc},
  {name:'inset-v2-pid', color:ORANGE, shape:'circle', filled:false, marks:insetCPid},
  {name:'inset-v2-lqr', color:RED, shape:'up', filled:false, marks:insetCLqr}
]});

/* ---------- panel (d) ---------- */
const dSeries = [
  {name:'x2-mpc', color:CYAN, shape:'square', filled:false, marks:zip(trackMarkTimes,dMpc).concat(dMpcExtra), extra:dMpcLine},
  {name:'x2-pso-mpc', color:BLUE, shape:'down', filled:false, marks:zip(trackMarkTimes,dPso), extra:dPsoLine},
  {name:'x2-pid', color:ORANGE, shape:'circle', filled:false, marks:zip(trackMarkTimes,dPid).concat(dPidExtra), extra:dPidLine},
  {name:'x2-lqr', color:RED, shape:'up', filled:false, marks:zip(trackMarkTimes,dLqr), extra:dLqrLine}
];
dSeries.forEach(s => { s.line = mergeByTime(s.extra, s.marks); });
const panelD = panel({name:'panel-d', left:1036, right:1744.6, top:679, bottom:1156.7, yMax:1, yMin:-2, yTicks:distTicksD, yLabels:distLabelsD, xLabelY:1192, yLabelRight:1021, labelTop:678, labelSqueeze:0.992, markerSize:16, series:dSeries});
legendEntry(panelD, 1336.7, 1392.8, 1394, 695.7, dSeries[1], 'x', '2', '(PSO-MPC)');
legendEntry(panelD, 1571.5, 1627, 1628.6, 695.7, dSeries[0], 'x', '2', '(MPC)');
legendEntry(panelD, 1336.7, 1392.8, 1394, 733.3, dSeries[2], 'x', '2', '(PID)');
legendEntry(panelD, 1571.5, 1627, 1628.6, 733.3, dSeries[3], 'x', '2', '(LQR)');
</script>
</body>
</html>
